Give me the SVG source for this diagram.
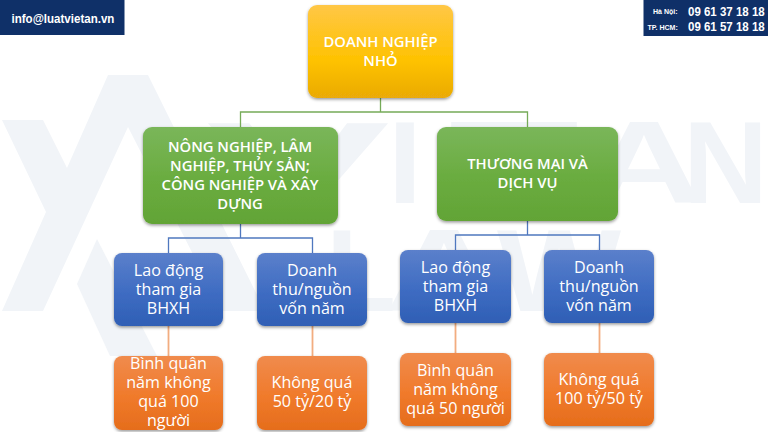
<svg xmlns="http://www.w3.org/2000/svg" width="768" height="432" viewBox="0 0 768 432">
<style>
text{font-family:"Open Sans","Noto Sans",sans-serif;text-anchor:middle;fill:#fff}
.b{font-weight:600;font-size:14.800px}
.r{font-size:16.100px}
.w{font-family:"Liberation Sans",sans-serif;font-weight:700;fill:#f1f4f8;font-size:116px;text-anchor:start}
.h{font-family:"Liberation Sans",sans-serif;font-weight:700;text-anchor:start}
.c{fill:none;stroke-width:1.300}
.o{stroke-width:1.800}
</style>
<defs>
<linearGradient id="y" x1="0" y1="0" x2="0" y2="1"><stop offset="0" stop-color="#ffc746"/><stop offset=".6" stop-color="#fec200"/><stop offset="1" stop-color="#eaaa07"/></linearGradient>
<linearGradient id="g" x1="0" y1="0" x2="0" y2="1"><stop offset="0" stop-color="#7ab65a"/><stop offset=".55" stop-color="#6aac3f"/><stop offset="1" stop-color="#62a436"/></linearGradient>
<linearGradient id="u" x1="0" y1="0" x2="0" y2="1"><stop offset="0" stop-color="#5b80cb"/><stop offset=".55" stop-color="#3e6cc2"/><stop offset="1" stop-color="#2f5fb5"/></linearGradient>
<linearGradient id="o" x1="0" y1="0" x2="0" y2="1"><stop offset="0" stop-color="#f08b4d"/><stop offset=".55" stop-color="#f07a2b"/><stop offset="1" stop-color="#e56d1c"/></linearGradient>
<filter id="s" x="-10%" y="-10%" width="120%" height="125%"><feDropShadow dx="0" dy="1.500" stdDeviation="1.500" flood-color="#000" flood-opacity=".4"/></filter>
</defs>
<rect width="768" height="432" fill="#fff"/>
<g id="watermark">
<path fill="#f1f4f8" d="M2 120H43L67 168 108 75H148L265 311H222L128 127 43 311H2L46 212Z"/>
<path fill="#f1f4f8" d="M97 239L77 284 110 356H157Z"/>
<text class="w" y="203"><tspan x="206" textLength="184" lengthAdjust="spacingAndGlyphs">V</tspan><tspan x="388" textLength="34" lengthAdjust="spacingAndGlyphs">I</tspan><tspan x="444" textLength="72" lengthAdjust="spacingAndGlyphs">E</tspan><tspan x="508" textLength="70" lengthAdjust="spacingAndGlyphs">T</tspan><tspan x="585" textLength="118" lengthAdjust="spacingAndGlyphs">A</tspan><tspan x="683" textLength="85" lengthAdjust="spacingAndGlyphs">N</tspan></text>
<text class="w" y="311"><tspan x="326" textLength="70" lengthAdjust="spacingAndGlyphs">L</tspan><tspan x="385" textLength="118" lengthAdjust="spacingAndGlyphs">A</tspan><tspan x="497" textLength="124" lengthAdjust="spacingAndGlyphs">W</tspan></text>
</g>
<g id="header-email"><rect width="124.500" height="35" fill="#0f3068"/><text class="h" transform="translate(11.500 23) scale(.855 1)" font-size="13.500">info@luatvietan.vn</text></g>
<g id="header-phone"><rect x="643.500" width="124.500" height="36" fill="#0f3068"/>
<text class="h" transform="translate(653 14) scale(.88 1)" font-size="8">Hà Nội:</text>
<text class="h" transform="translate(647.500 29.500) scale(.88 1)" font-size="8">TP. HCM:</text>
<text class="h" transform="translate(688 15.500) scale(.885 1)" font-size="13">09 61 37 18 18</text>
<text class="h" transform="translate(688 30.500) scale(.885 1)" font-size="13">09 61 57 18 18</text></g>
<g id="connectors">
<path class="c" stroke="#76ab58" d="M380.500 98V112M240.500 127V112H527.500V127"/>
<path class="c" stroke="#4f78bf" d="M240.500 224V238M168.500 253V238H312.500V253M527.500 221V235M455.500 250V235H599.500V250"/>
<path class="c o" stroke="#f2ad80" d="M168.500 326V356M312.500 326V356M455.500 323V353M599.500 323V353"/>
</g>
<g id="n-root"><rect x="308" y="5" width="145" height="93" rx="9" fill="url(#y)" filter="url(#s)"/><text class="b" x="380.500" y="47">DOANH NGHIỆP</text><text class="b" x="380.500" y="66">NHỎ</text></g>
<g id="n-left"><rect x="143" y="127" width="195" height="97" rx="9" fill="url(#g)" filter="url(#s)"/><text class="b" x="240" y="151.500">NÔNG NGHIỆP, LÂM</text><text class="b" x="240" y="170.500">NGHIỆP, THỦY SẢN;</text><text class="b" x="240" y="189.500">CÔNG NGHIỆP VÀ XÂY</text><text class="b" x="240" y="208.500">DỰNG</text></g>
<g id="n-right"><rect x="437" y="127" width="181" height="94" rx="9" fill="url(#g)" filter="url(#s)"/><text class="b" x="527.500" y="169">THƯƠNG MẠI VÀ</text><text class="b" x="527.500" y="188">DỊCH VỤ</text></g>
<g id="n-l1"><rect x="114" y="253" width="109" height="73" rx="8" fill="url(#u)" filter="url(#s)"/><text class="r" x="168.500" y="276">Lao động</text><text class="r" x="168.500" y="295">tham gia</text><text class="r" x="168.500" y="314">BHXH</text></g>
<g id="n-l2"><rect x="257" y="253" width="110" height="73" rx="8" fill="url(#u)" filter="url(#s)"/><text class="r" x="312" y="276">Doanh</text><text class="r" x="312" y="295">thu/nguồn</text><text class="r" x="312" y="314">vốn năm</text></g>
<g id="n-r1"><rect x="400" y="250" width="111" height="73" rx="8" fill="url(#u)" filter="url(#s)"/><text class="r" x="455.500" y="273">Lao động</text><text class="r" x="455.500" y="292">tham gia</text><text class="r" x="455.500" y="311">BHXH</text></g>
<g id="n-r2"><rect x="544" y="250" width="110" height="73" rx="8" fill="url(#u)" filter="url(#s)"/><text class="r" x="599" y="273">Doanh</text><text class="r" x="599" y="292">thu/nguồn</text><text class="r" x="599" y="311">vốn năm</text></g>
<g id="n-l3"><rect x="114" y="356" width="109" height="74" rx="8" fill="url(#o)" filter="url(#s)"/><text class="r" x="168.500" y="369">Bình quân</text><text class="r" x="168.500" y="388">năm không</text><text class="r" x="168.500" y="407">quá 100</text><text class="r" x="168.500" y="426">người</text></g>
<g id="n-l4"><rect x="257" y="356" width="110" height="74" rx="8" fill="url(#o)" filter="url(#s)"/><text class="r" x="312" y="388">Không quá</text><text class="r" x="312" y="407">50 tỷ/20 tỷ</text></g>
<g id="n-r3"><rect x="400" y="353" width="111" height="73" rx="8" fill="url(#o)" filter="url(#s)"/><text class="r" x="455.500" y="376">Bình quân</text><text class="r" x="455.500" y="395">năm không</text><text class="r" x="455.500" y="414">quá 50 người</text></g>
<g id="n-r4"><rect x="544" y="353" width="110" height="73" rx="8" fill="url(#o)" filter="url(#s)"/><text class="r" x="599" y="385">Không quá</text><text class="r" x="599" y="404">100 tỷ/50 tỷ</text></g>
</svg>
